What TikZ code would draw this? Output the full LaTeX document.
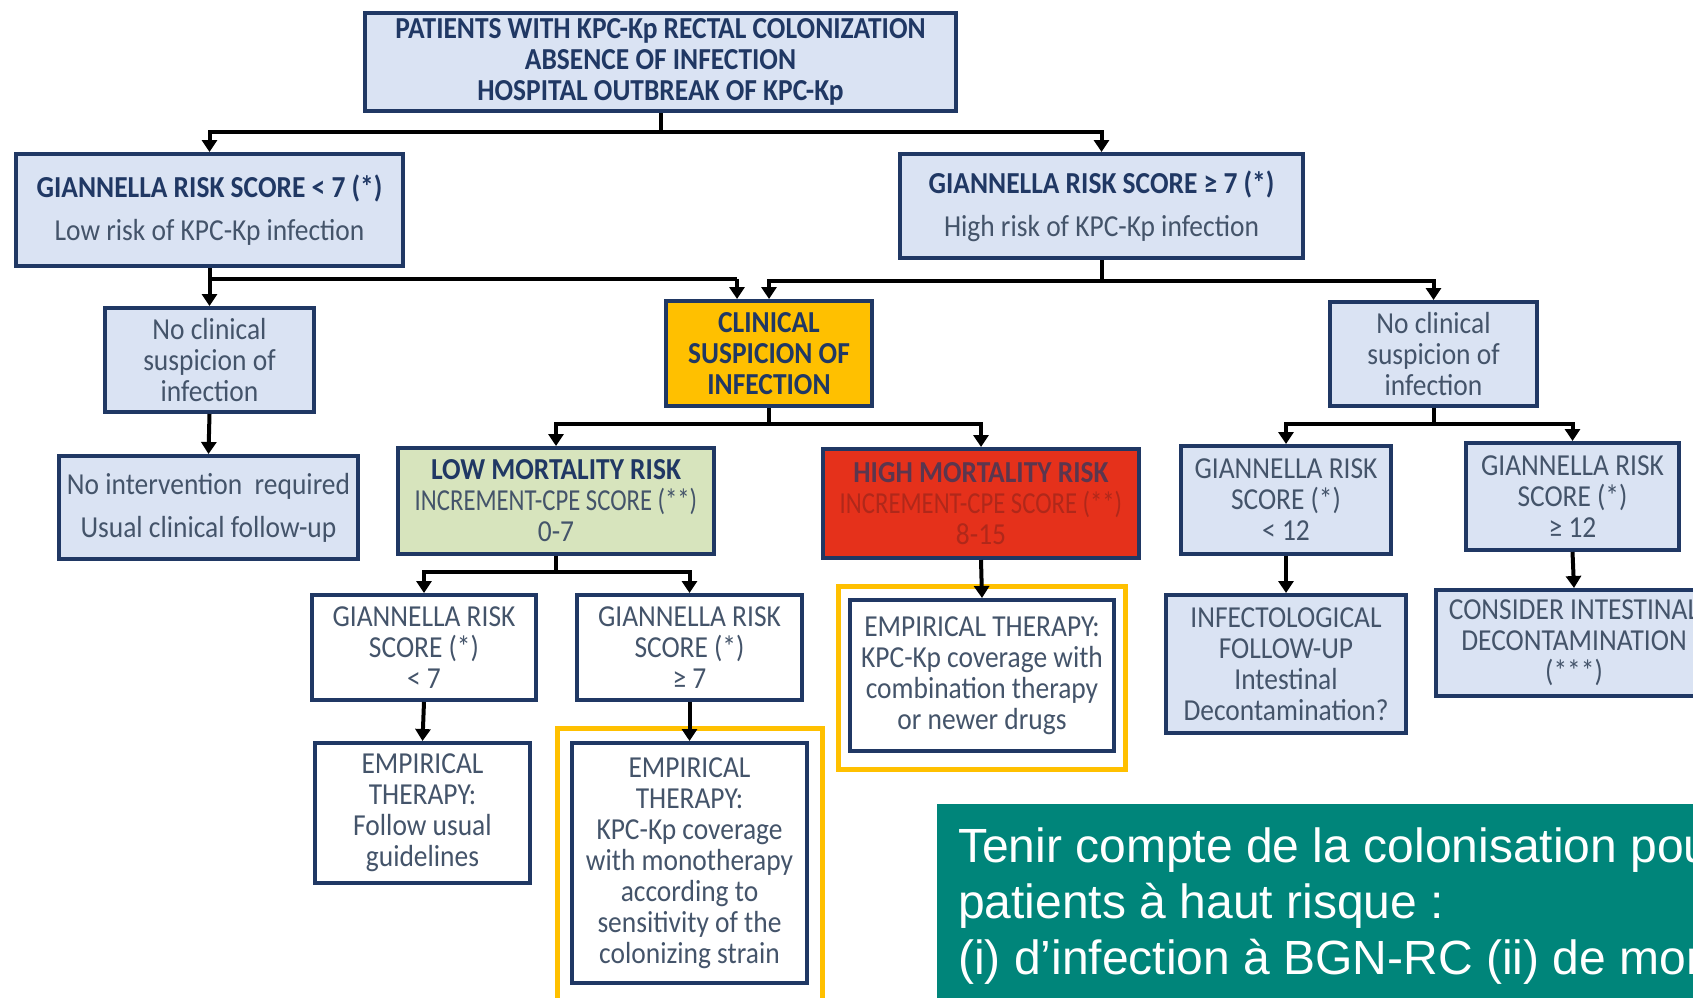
\documentclass[tikz,border=0pt]{standalone}
\usepackage{fontspec}
\setmainfont{Carlito}[FakeStretch=0.9]
\newfontfamily\cfc{Carlito}[FakeStretch=0.81]
\newfontfamily\arialf{Liberation Sans}
\usetikzlibrary{arrows.meta}
\definecolor{navy}{HTML}{203864}
\definecolor{lblue}{HTML}{DAE3F3}
\definecolor{tgray}{HTML}{44546A}
\definecolor{lgreen}{HTML}{D7E4BD}
\definecolor{hred}{HTML}{E5311B}
\definecolor{dred}{HTML}{B0281A}
\definecolor{gold}{HTML}{FFC000}
\definecolor{tealbg}{HTML}{00857A}
\newcommand\boxfont{\fontsize{30.5pt}{31pt}\selectfont}
\newcommand\notefont{\arialf\fontsize{48pt}{56pt}\selectfont}
\begin{document}
\begin{tikzpicture}[x=1pt,y=-1pt,
  box/.style={draw=navy, line width=4pt, fill=lblue, align=center, text=tgray, inner sep=0pt, font=\boxfont},
  wbox/.style={box, fill=white},
  ttl/.style={text=navy, font=\boxfont\bfseries},
  ln/.style={line width=4pt, black},
  arr/.style={ln, -{Triangle[width=15pt,length=12pt]}},
  hl/.style={draw=gold, line width=5pt},
  note/.style={anchor=base west, text=white, font=\notefont, inner sep=0pt}]
\useasboundingbox (0,0) rectangle (1693,997);
\clip (0,0) rectangle (1693,997);
\fill[white] (0,0) rectangle (1693,997);

% highlight frames
\draw[hl] (557,728) rectangle (822,1010);
\draw[hl] (838,586) rectangle (1125,769);

% nodes
\node[box, ttl, minimum width=591pt, minimum height=98pt] (top) at (660.5,62)
  {PATIENTS WITH KPC-Kp RECTAL COLONIZATION\\ABSENCE OF INFECTION\\HOSPITAL OUTBREAK OF KPC-Kp};
\node[box, minimum width=387pt, minimum height=112pt] (gl) at (209.5,210)
  {\textcolor{navy}{\bfseries GIANNELLA RISK SCORE < 7 (*)}\\[12pt]Low risk of KPC-Kp infection};
\node[box, minimum width=403pt, minimum height=104pt] (gr) at (1101.5,206)
  {\textcolor{navy}{\bfseries GIANNELLA RISK SCORE ≥ 7 (*)}\\[12pt]High risk of KPC-Kp infection};
\node[box, minimum width=209pt, minimum height=104pt] (ncl) at (209.5,360)
  {No clinical\\suspicion of\\infection};
\node[box, ttl, fill=gold, minimum width=206pt, minimum height=105pt] (clin) at (769,353.5)
  {CLINICAL\\SUSPICION OF\\INFECTION};
\node[box, minimum width=207pt, minimum height=104pt] (ncr) at (1433.5,354)
  {No clinical\\suspicion of\\infection};
\node[box, minimum width=299pt, minimum height=103pt] (noint) at (208.5,507.5)
  {No intervention~~required\\[12pt]Usual clinical follow-up};
\node[box, fill=lgreen, minimum width=316pt, minimum height=106pt] (low) at (556,501)
  {\textcolor{navy}{\bfseries LOW MORTALITY RISK}\\{\cfc INCREMENT-CPE SCORE (**)}\\0-7};
\node[box, fill=hred, text=dred, minimum width=316pt, minimum height=109pt] (high) at (981,503.5)
  {\textcolor{navy!70!hred}{\bfseries HIGH MORTALITY RISK}\\{\cfc INCREMENT-CPE SCORE (**)}\\8-15};
\node[box, minimum width=210pt, minimum height=108pt] (g12a) at (1286,500)
  {GIANNELLA RISK\\SCORE (*)\\< 12};
\node[box, minimum width=213pt, minimum height=107pt] (g12b) at (1572.5,496.5)
  {GIANNELLA RISK\\SCORE (*)\\≥ 12};
\node[box, minimum width=240pt, minimum height=138pt] (inf) at (1286,664)
  {INFECTOLOGICAL\\FOLLOW-UP\\Intestinal\\Decontamination?};
\node[box, minimum width=276pt, minimum height=106pt] (cons) at (1574,643)
  {CONSIDER INTESTINAL\\DECONTAMINATION\\(***)};
\node[wbox, minimum width=224pt, minimum height=105pt] (g7a) at (424,647.5)
  {GIANNELLA RISK\\SCORE (*)\\< 7};
\node[wbox, minimum width=225pt, minimum height=105pt] (g7b) at (689.5,647.5)
  {GIANNELLA RISK\\SCORE (*)\\≥ 7};
\node[wbox, minimum width=215pt, minimum height=140pt] (empL) at (422.5,813)
  {EMPIRICAL\\THERAPY:\\Follow usual\\guidelines};
\node[wbox, minimum width=235pt, minimum height=240pt] (empM) at (689.5,863)
  {EMPIRICAL\\THERAPY:\\KPC-Kp coverage\\with monotherapy\\according to\\sensitivity of the\\colonizing strain};
\node[wbox, minimum width=264pt, minimum height=151pt] (empR) at (982,675.5)
  {EMPIRICAL THERAPY:\\KPC-Kp coverage with\\combination therapy\\or newer drugs};

% junctions
\coordinate (jt) at (660.5,132);
\coordinate (jl) at (209.5,279);
\coordinate (jl2) at (737,279);
\coordinate (jr) at (1101.5,281);
\coordinate (jc) at (769,424);
\coordinate (jn) at (1433.5,424);
\coordinate (jlow) at (556,572);

% connectors
\draw[ln] (top.south) -- (jt);
\draw[arr] (jt) -| (gl.north);
\draw[arr] (jt) -| (gr.north);
\draw[arr] (gl.south) -- (ncl.north);
\draw[ln] (jl) -- (jl2);
\draw[arr] (jl2) -- (jl2 |- clin.north);
\draw[ln] (gr.south) -- (jr);
\draw[arr] (jr) -| (clin.north);
\draw[arr] (jr) -| (ncr.north);
\draw[arr] (ncl.south) -- (noint.north);
\draw[ln] (clin.south) -- (jc);
\draw[arr] (jc) -| (low.north);
\draw[arr] (jc) -| (high.north);
\draw[ln] (ncr.south) -- (jn);
\draw[arr] (jn) -| (g12a.north);
\draw[arr] (jn) -| (g12b.north);
\draw[arr] (g12a.south) -- (inf.north);
\draw[arr] (g12b.south) -- (cons.north);
\draw[ln] (low.south) -- (jlow);
\draw[arr] (jlow) -| (g7a.north);
\draw[arr] (jlow) -| (g7b.north);
\draw[arr] (g7a.south) -- (empL.north);
\draw[arr] (g7b.south) -- (empM.north);
\draw[arr] (high.south) -- (empR.north);

% note
\fill[tealbg] (937,804) rectangle (1700,1005);
\node[note] (n1) at (958,862) {Tenir compte de la colonisation pou};
\node[note] (n2) at (958,918) {patients à haut risque :};
\node[note] (n3) at (958,974) {(i) d’infection à BGN-RC (ii) de mor};
\end{tikzpicture}
\end{document}
